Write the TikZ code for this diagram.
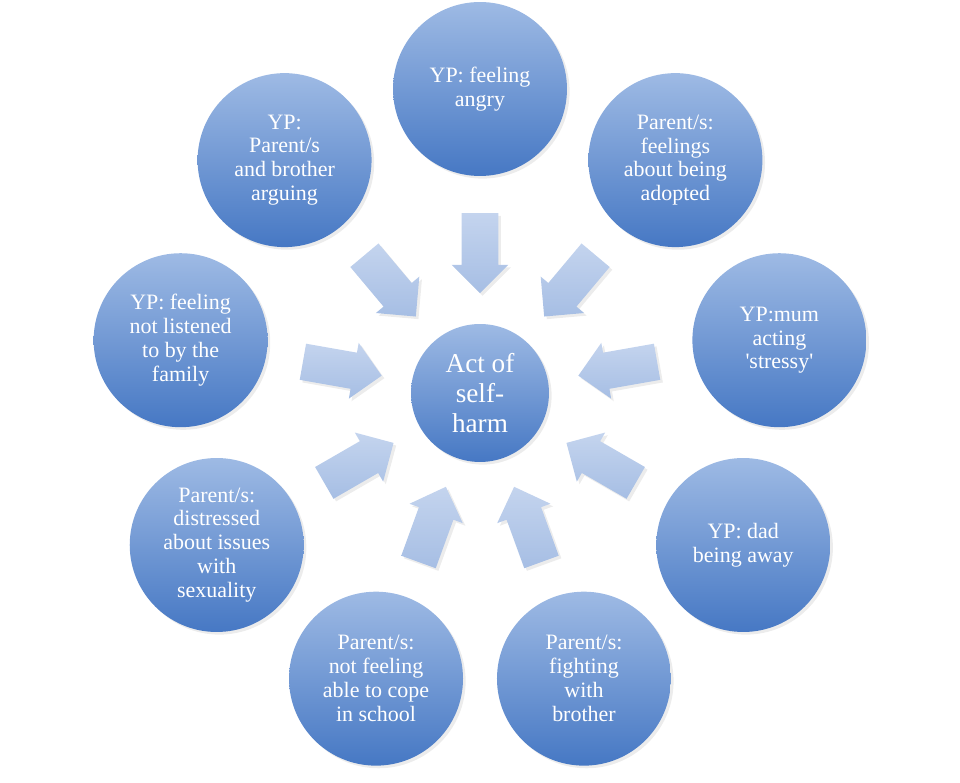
\documentclass[tikz,border=0pt]{standalone}
\usepackage{fontspec}
\setmainfont{Liberation Serif}
\usetikzlibrary{shapes.arrows,shadows}

\definecolor{bubbletop}{RGB}{158,186,228}
\definecolor{bubblebot}{RGB}{70,120,196}
\definecolor{pushtail}{RGB}{196,212,238}
\definecolor{pushtip}{RGB}{166,190,228}

\begin{document}
\begin{tikzpicture}[x=0.02cm, y=0.02cm,
  bubble/.style={circle, minimum size=3.48cm, inner sep=0pt, align=center,
    top color=bubbletop, bottom color=bubblebot, text=white,
    font=\fontsize{12.5}{13.6}\selectfont,
    drop shadow={opacity=0.15, shadow xshift=1.5pt, shadow yshift=-1.5pt}},
  hub/.style={bubble, minimum size=2.76cm, font=\fontsize{15.5}{17}\selectfont},
  push/.style={single arrow, draw=none, inner sep=0.36cm,
    minimum height=1.6cm, single arrow head extend=0.2cm,
    top color=pushtail, bottom color=pushtip,
    drop shadow={opacity=0.15, shadow xshift=1.5pt, shadow yshift=-1.5pt}}]

  \def \n {9}
  \def \radius {304}
  \def \gap {149} % arrows sit this far from the middle

  \useasboundingbox (-480,-390) rectangle (480,393);

  \node[hub] (harm) at (0,0) {Act of\\self-\\harm};

  \foreach \txt [count=\s] in {
      {YP: feeling\\angry},
      {Parent/s:\\feelings\\about being\\adopted},
      {YP:mum\\acting\\\textquotesingle stressy\textquotesingle},
      {YP: dad\\being away},
      {Parent/s:\\fighting\\with\\brother},
      {Parent/s:\\not feeling\\able to cope\\in school},
      {Parent/s:\\distressed\\about issues\\with\\sexuality},
      {YP: feeling\\not listened\\to by the\\family},
      {YP:\\Parent/s\\and brother\\arguing}} {
    \node[bubble] (c\s) at ({90 - 360/\n * (\s - 1)}:\radius) {\txt};
    \node[push, rotate={270 - 360/\n * (\s - 1)}] (a\s)
      at ({90 - 360/\n * (\s - 1)}:\gap) {};
  }
\end{tikzpicture}
\end{document}
